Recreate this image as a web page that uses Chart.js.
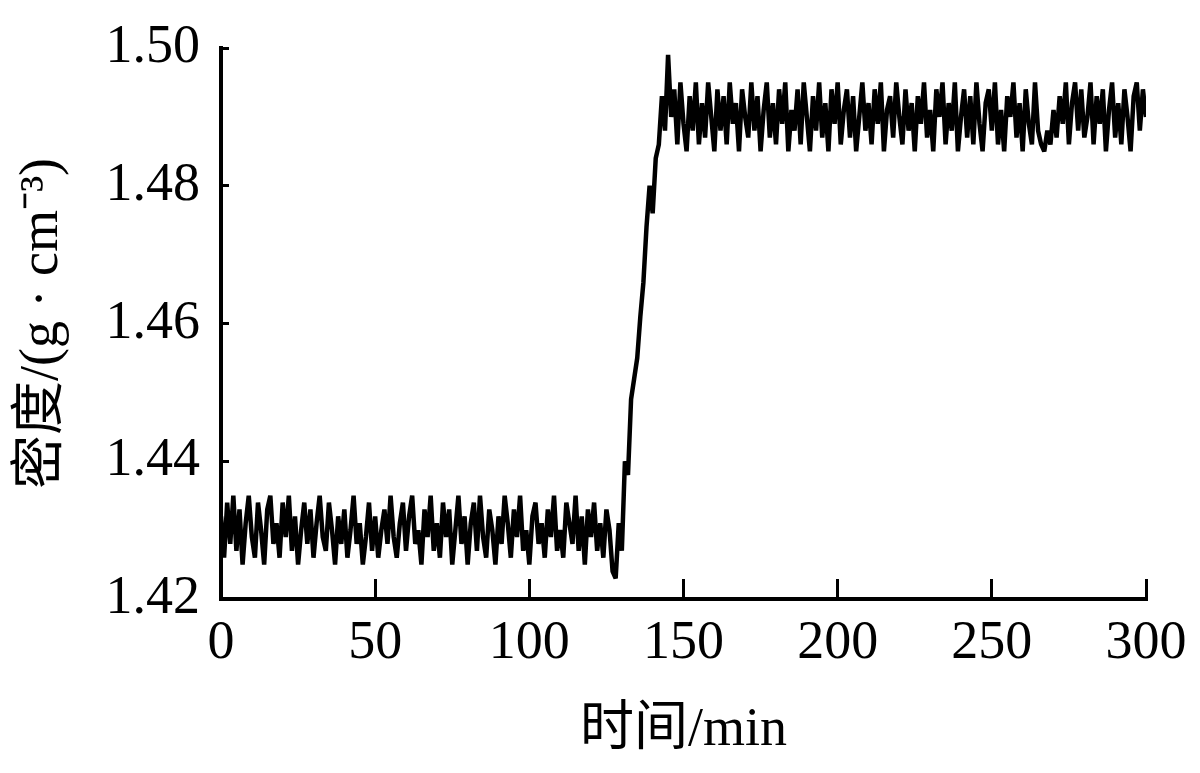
<!DOCTYPE html>
<html>
<head>
<meta charset="utf-8">
<script src="https://cdn.jsdelivr.net/npm/chart.js@4/dist/chart.umd.min.js"></script>
<style>
  html, body { margin: 0; padding: 0; background: #fff; }
  #wrap { width: 1200px; height: 773px; }
</style>
</head>
<body>
<div id="wrap"><canvas id="chart" width="1200" height="773"></canvas></div>
<script>
// density readings, one per minute from t = 0
const density = [
  1.432, 1.426, 1.434, 1.428, 1.435, 1.427, 1.433, 1.425, 1.431, 1.435,
  1.429, 1.426, 1.434, 1.430, 1.425, 1.433, 1.435, 1.428, 1.431, 1.426,
  1.434, 1.429, 1.435, 1.427, 1.432, 1.425, 1.430, 1.434, 1.428, 1.433,
  1.426, 1.431, 1.435, 1.429, 1.427, 1.434, 1.430, 1.425, 1.432, 1.428,
  1.433, 1.426, 1.430, 1.435, 1.428, 1.431, 1.425, 1.429, 1.434, 1.427,
  1.432, 1.426, 1.430, 1.433, 1.428, 1.435, 1.429, 1.426, 1.431, 1.434,
  1.427, 1.432, 1.435, 1.428, 1.430, 1.425, 1.433, 1.429, 1.435, 1.427,
  1.431, 1.426, 1.434, 1.429, 1.433, 1.425, 1.430, 1.435, 1.428, 1.432,
  1.425, 1.431, 1.434, 1.427, 1.435, 1.429, 1.426, 1.433, 1.430, 1.425,
  1.432, 1.428, 1.435, 1.431, 1.426, 1.433, 1.429, 1.435, 1.427, 1.430,
  1.425, 1.432, 1.434, 1.428, 1.431, 1.426, 1.433, 1.429, 1.435, 1.427,
  1.430, 1.426, 1.434, 1.431, 1.428, 1.435, 1.427, 1.432, 1.425, 1.433,
  1.429, 1.434, 1.427, 1.431, 1.426, 1.433, 1.430, 1.424, 1.423, 1.431,
  1.427, 1.440, 1.438, 1.449, 1.452, 1.455, 1.461, 1.466, 1.474, 1.480,
  1.476, 1.484, 1.486, 1.493, 1.488, 1.499, 1.490, 1.494, 1.486, 1.495,
  1.489, 1.485, 1.493, 1.488, 1.495, 1.486, 1.492, 1.487, 1.495, 1.490,
  1.485, 1.494, 1.488, 1.493, 1.486, 1.495, 1.489, 1.492, 1.485, 1.494,
  1.490, 1.487, 1.495, 1.488, 1.493, 1.485, 1.491, 1.495, 1.487, 1.492,
  1.486, 1.494, 1.489, 1.495, 1.485, 1.491, 1.488, 1.494, 1.486, 1.495,
  1.490, 1.485, 1.493, 1.488, 1.495, 1.487, 1.492, 1.485, 1.494, 1.489,
  1.495, 1.486, 1.491, 1.494, 1.487, 1.493, 1.485, 1.490, 1.495, 1.488,
  1.492, 1.486, 1.494, 1.489, 1.495, 1.485, 1.491, 1.493, 1.487, 1.495,
  1.490, 1.486, 1.494, 1.488, 1.492, 1.485, 1.493, 1.489, 1.495, 1.487,
  1.491, 1.485, 1.494, 1.490, 1.495, 1.486, 1.492, 1.488, 1.495, 1.485,
  1.490, 1.494, 1.487, 1.493, 1.486, 1.495, 1.489, 1.485, 1.492, 1.494,
  1.488, 1.495, 1.486, 1.491, 1.485, 1.493, 1.490, 1.495, 1.487, 1.492,
  1.485, 1.494, 1.489, 1.486, 1.495, 1.488, 1.486, 1.485, 1.488, 1.486,
  1.491, 1.487, 1.493, 1.489, 1.495, 1.486, 1.492, 1.495, 1.488, 1.494,
  1.487, 1.490, 1.495, 1.486, 1.493, 1.489, 1.494, 1.485, 1.491, 1.495,
  1.487, 1.492, 1.486, 1.494, 1.490, 1.485, 1.493, 1.495, 1.488, 1.494,
  1.490
];
const sampleStepMin = 1;
const xTicks = [0, 50, 100, 150, 200, 250, 300];
const yTicks = [1.42, 1.44, 1.46, 1.48, 1.50];
const xTitle = '时间/min';
const yTitle = '密度/(g · cm⁻³)';

const points = density.map((v, i) => ({ x: i * sampleStepMin, y: v }));
const serif = '"Liberation Serif", "Noto Sans CJK SC", serif';

new Chart(document.getElementById('chart'), {
  type: 'line',
  data: { datasets: [
    { data: points, borderColor: '#000', borderWidth: 4.5, borderJoinStyle: 'bevel',
      pointRadius: 0, tension: 0, fill: false }
  ]},
  options: {
    responsive: false, animation: false,
    layout: { padding: { top: 48, right: 54, bottom: 0, left: 0 } },
    plugins: { legend: { display: false }, tooltip: { enabled: false } },
    scales: {
      x: {
        type: 'linear', min: xTicks[0], max: xTicks[xTicks.length - 1],
        afterBuildTicks: s => { s.ticks = xTicks.map(v => ({ value: v })); },
        afterFit: s => { s.height = 174; s.paddingLeft = 0; s.paddingRight = 0; },
        border: { color: '#000', width: 4 },
        grid: { drawOnChartArea: false, color: '#000', lineWidth: 3, tickLength: -20 },
        ticks: { color: '#000', padding: 32, maxRotation: 0, font: { family: serif, size: 54 } },
        title: { display: true, text: xTitle, color: '#000', padding: { top: 0, bottom: 10 }, font: { family: serif, size: 54 } }
      },
      y: {
        min: yTicks[0], max: yTicks[yTicks.length - 1],
        afterBuildTicks: s => { s.ticks = yTicks.map(v => ({ value: v })); },
        afterFit: s => { s.width = 221; s.paddingTop = 0; s.paddingBottom = 0; },
        border: { color: '#000', width: 4 },
        grid: { drawOnChartArea: false, color: '#000', lineWidth: 3, tickLength: -8 },
        ticks: { color: '#000', padding: 29, callback: v => v.toFixed(2), font: { family: serif, size: 54 } },
        title: { display: true, text: yTitle, color: '#000', padding: { top: 10, bottom: 0 }, font: { family: serif, size: 54 } }
      }
    }
  }
});
</script>
</body>
</html>
